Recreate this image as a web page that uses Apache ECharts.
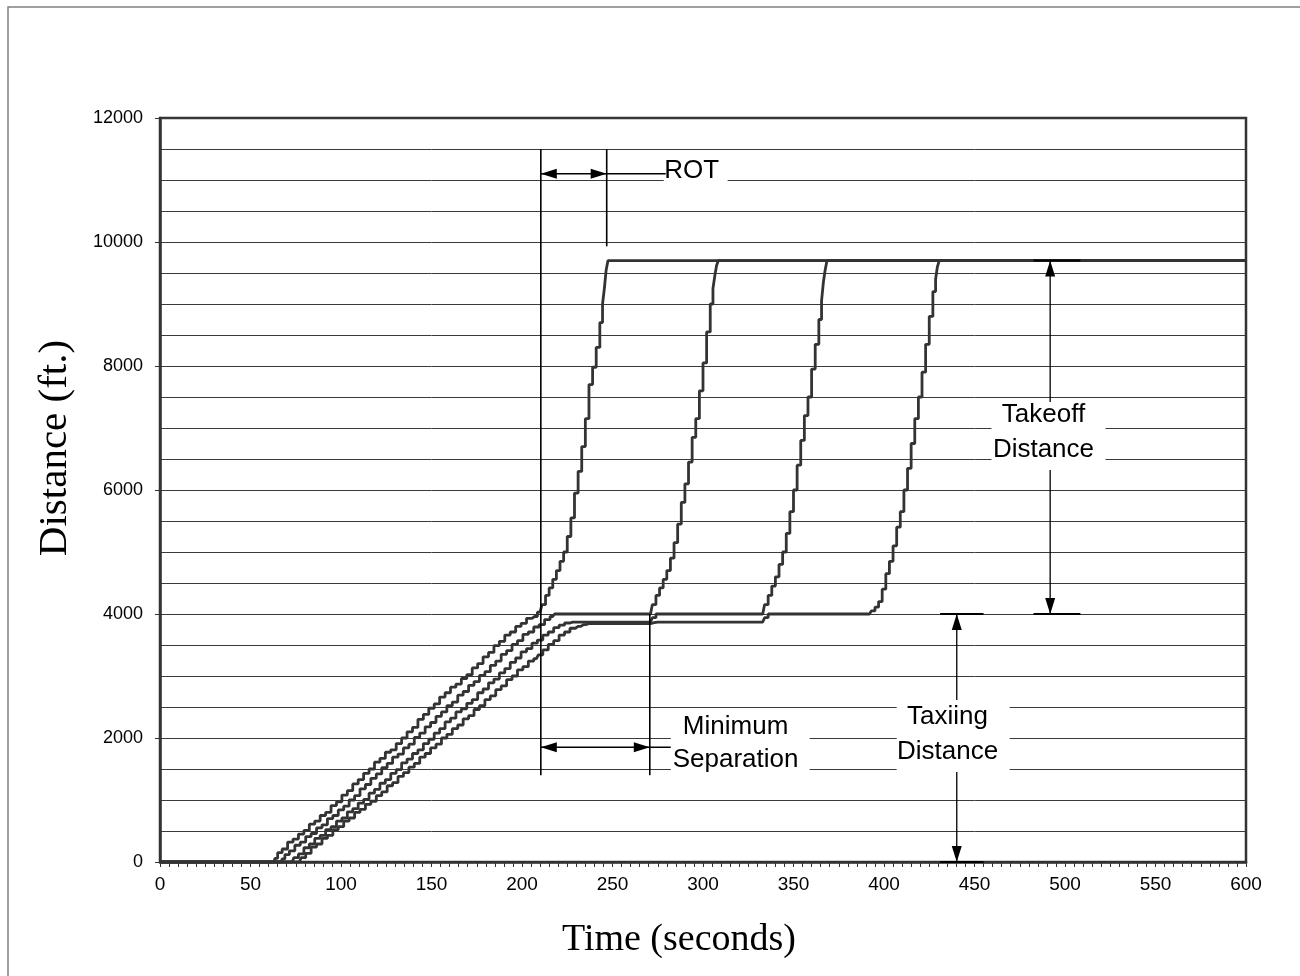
<!DOCTYPE html>
<html>
<head>
<meta charset="utf-8">
<script src="https://cdn.jsdelivr.net/npm/echarts@6/dist/echarts.min.js"></script>
<style>
html,body{margin:0;padding:0;background:#fff;}
#chart{width:1300px;height:976px;}
</style>
</head>
<body>
<div id="chart"></div>
<script>
// ---- Data: [time (s), distance (ft)] per aircraft ----
const aircraft1 = [[0,0],[63,0],[64,60],[66,150],[69,210],[72,320],[75,370],[78,450],[81,510],[84,610],[87,660],[90,750],[93,800],[96,910],[99,970],[102,1080],[105,1150],[108,1260],[111,1330],[114,1430],[117,1500],[120,1610],[123,1670],[126,1770],[129,1810],[132,1910],[135,2000],[138,2100],[141,2170],[144,2300],[147,2380],[150,2480],[153,2550],[156,2660],[159,2730],[162,2820],[165,2870],[168,2960],[171,3020],[174,3130],[177,3200],[180,3310],[183,3380],[186,3490],[189,3560],[192,3660],[195,3710],[198,3800],[201,3850],[204,3930],[207,3960],[210,4030],[212,4150],[214,4300],[216,4420],[218,4560],[220,4700],[222,4850],[224,5000],[226,5250],[228,5550],[230,5950],[232,6300],[234,6700],[236,7150],[238,7700],[240,7980],[242,8300],[244,8700],[245,9000],[246,9250],[247,9550],[248,9700],[600,9700]];

const aircraft2 = [[0,0],[67,0],[68,50],[70,120],[73,180],[76,270],[79,320],[82,410],[85,460],[88,550],[91,600],[94,700],[97,750],[100,840],[103,900],[106,1000],[109,1070],[112,1180],[115,1250],[118,1350],[121,1420],[124,1520],[127,1590],[130,1690],[133,1740],[136,1840],[139,1900],[142,2010],[145,2080],[148,2180],[151,2250],[154,2350],[157,2420],[160,2520],[163,2580],[166,2690],[169,2750],[172,2850],[175,2910],[178,3010],[181,3070],[184,3170],[187,3240],[190,3350],[193,3410],[196,3510],[199,3570],[202,3670],[205,3710],[208,3790],[211,3830],[214,3910],[217,3960],[219,4000],[271,4000],[273,4150],[275,4300],[277,4420],[279,4560],[281,4700],[283,4900],[285,5150],[287,5450],[289,5800],[291,6100],[293,6450],[295,6850],[297,7150],[299,7600],[301,8050],[303,8550],[305,9000],[306,9250],[307,9450],[308,9620],[309,9700],[600,9700]];

const aircraft3 = [[0,0],[73,0],[75,70],[78,130],[81,230],[84,290],[87,380],[90,430],[93,520],[96,570],[99,660],[102,710],[105,810],[108,860],[111,950],[114,1010],[117,1110],[120,1170],[123,1270],[126,1330],[129,1430],[132,1490],[135,1600],[138,1660],[141,1750],[144,1810],[147,1910],[150,1980],[153,2080],[156,2150],[159,2260],[162,2320],[165,2420],[168,2470],[171,2560],[174,2620],[177,2730],[180,2790],[183,2890],[186,2950],[189,3050],[192,3120],[195,3220],[198,3290],[201,3390],[204,3440],[207,3530],[210,3580],[213,3660],[216,3710],[219,3780],[222,3820],[225,3855],[228,3870],[271,3870],[273,3940],[275,4000],[333,4000],[335,4150],[337,4300],[339,4450],[341,4600],[343,4800],[345,5000],[347,5300],[349,5650],[351,6000],[353,6400],[355,6800],[357,7200],[359,7500],[361,7950],[363,8350],[365,8750],[366,9050],[367,9350],[368,9550],[369,9700],[600,9700]];

const aircraft4 = [[0,0],[77,0],[79,70],[82,140],[85,240],[88,290],[91,380],[94,430],[97,520],[100,570],[103,660],[106,710],[109,800],[112,850],[115,930],[118,980],[121,1070],[124,1130],[127,1230],[130,1280],[133,1380],[136,1440],[139,1530],[142,1590],[145,1690],[148,1750],[151,1840],[154,1900],[157,2000],[160,2060],[163,2150],[166,2210],[169,2310],[172,2360],[175,2460],[178,2520],[181,2620],[184,2680],[187,2780],[190,2840],[193,2940],[196,3000],[199,3100],[202,3150],[205,3240],[208,3280],[210,3340],[213,3420],[216,3510],[219,3570],[222,3660],[225,3710],[228,3770],[231,3800],[234,3830],[237,3845],[271,3845],[273,3860],[275,3870],[333,3870],[335,3940],[337,4000],[392,4000],[394,4050],[396,4110],[398,4200],[400,4400],[402,4650],[404,4850],[406,5100],[408,5400],[410,5650],[412,6000],[414,6350],[416,6750],[418,7150],[420,7500],[422,7900],[424,8350],[426,8800],[428,9200],[429,9400],[430,9600],[431,9700],[600,9700]];

const xAxisTitle = 'Time (seconds)';
const yAxisTitle = 'Distance (ft.)';

// ---- Annotation geometry in data coordinates (time, distance) ----
const vLines = [
  {t: 210.4, d1: 11500, d2: 1400},
  {t: 246.8, d1: 11500, d2: 9930},
  {t: 270.6, d1: 4000,  d2: 1400}
];
const hArrows = [ // double-headed horizontal arrows + extension to text box
  {d: 11100, t1: 210.4, t2: 246.8, ext: 279.4},
  {d: 1850,  t1: 210.4, t2: 270.6, ext: 282.2}
];
const vArrows = [ // vertical arrows, split by text boxes
  {t: 491.8, top: 9700, bottom: 4000, gapTop: 7419, gapBottom: 6323, bar1: 482.6, bar2: 508.5},
  {t: 440.2, top: 4000, bottom: 0,    gapTop: 2613, gapBottom: 1452, bar1: 431,   bar2: 455}
];
const textBoxes = [
  {t1: 278.3, t2: 313.6, d1: 10900, d2: 11350, tc: 293.8, lines: [['ROT', 11142]]},
  {t1: 282.2, t2: 358.9, d1: 1452,  d2: 2419,  tc: 318.0, lines: [['Minimum', 2177], ['Separation', 1645]]},
  {t1: 459.4, t2: 522.4, d1: 6323,  d2: 7419,  tc: 488.1, lines: [['Takeoff', 7210], ['Distance', 6645]]},
  {t1: 407.0, t2: 469.4, d1: 1452,  d2: 2613,  tc: 435.1, lines: [['Taxiing', 2339], ['Distance', 1774]]}
];

const chart = echarts.init(document.getElementById('chart'), null, {renderer: 'canvas'});

const lineColor = '#333333';
function mkSeries(name, data) {
  return {
    name: name, type: 'line', data: data, step: 'middle',
    symbol: 'none', silent: true, animation: false,
    lineStyle: {color: lineColor, width: 2.8},
    z: 3
  };
}

const option = {
  animation: false,
  backgroundColor: '#ffffff',
  grid: {left: 160, right: 54, top: 118, bottom: 114, show: true, borderColor: '#333', borderWidth: 2.5, backgroundColor: 'transparent'},
  xAxis: {
    type: 'value', min: 0, max: 600, interval: 50,
    axisLine: {show: true, onZero: false, lineStyle: {color: '#333', width: 2.5}},
    axisTick: {show: true, length: 5, lineStyle: {color: '#333', width: 1}},
    minorTick: {show: true, splitNumber: 10, length: 5, lineStyle: {color: '#333', width: 1}},
    axisLabel: {fontFamily: 'Liberation Sans', fontSize: 19, color: '#000', margin: 13,
      formatter: v => String(v)},
    splitLine: {show: false}
  },
  yAxis: {
    type: 'value', min: 0, max: 12000, interval: 2000,
    axisLine: {show: true, lineStyle: {color: '#333', width: 2.5}},
    axisTick: {show: true, length: 5, lineStyle: {color: '#333', width: 1}},
    minorTick: {show: false, splitNumber: 4},
    axisLabel: {fontFamily: 'Liberation Sans', fontSize: 18, color: '#000', margin: 17,
      formatter: v => String(v)},
    splitLine: {show: true, lineStyle: {color: '#3a3a3a', width: 1}},
    minorSplitLine: {show: true, lineStyle: {color: '#3a3a3a', width: 1}}
  },
  series: [
    mkSeries('Aircraft 1', aircraft1),
    mkSeries('Aircraft 2', aircraft2),
    mkSeries('Aircraft 3', aircraft3),
    mkSeries('Aircraft 4', aircraft4)
  ]
};
chart.setOption(option);

function px(t, d) { return chart.convertToPixel({gridIndex: 0}, [t, d]); }
const els = [];
const Z = 20;
const annoColor = '#000';
function line(p1, p2, w) {
  els.push({type: 'line', z: Z + 1, silent: true,
    shape: {x1: p1[0], y1: p1[1], x2: p2[0], y2: p2[1]},
    style: {stroke: annoColor, lineWidth: w || 1.5}});
}
function head(tip, dir) { // dir: 'left','right','up','down'
  const L = 16, W = 5;
  const [x, y] = tip;
  let pts;
  if (dir === 'left') pts = [[x, y], [x + L, y - W], [x + L, y + W]];
  else if (dir === 'right') pts = [[x, y], [x - L, y - W], [x - L, y + W]];
  else if (dir === 'up') pts = [[x, y], [x - W, y + L], [x + W, y + L]];
  else pts = [[x, y], [x - W, y - L], [x + W, y - L]];
  els.push({type: 'polygon', z: Z + 2, silent: true, shape: {points: pts}, style: {fill: annoColor}});
}

// outer frame
els.push({type: 'rect', z: Z, silent: true, shape: {x: 8, y: 7, width: 1300, height: 980},
  style: {fill: 'none', stroke: '#808080', lineWidth: 1.5}});

// text boxes (white, hiding grid lines) + text
textBoxes.forEach(b => {
  const p1 = px(b.t1, b.d2), p2 = px(b.t2, b.d1);
  els.push({type: 'rect', z: Z, silent: true,
    shape: {x: p1[0], y: p1[1], width: p2[0] - p1[0], height: p2[1] - p1[1]},
    style: {fill: '#ffffff', stroke: 'none'}});
  b.lines.forEach(([txt, d]) => {
    const p = px(b.tc, d);
    els.push({type: 'text', z: Z + 3, silent: true, x: p[0], y: p[1],
      style: {text: txt, x: 0, y: 0, fill: '#000', font: '26px "Liberation Sans", Arial, sans-serif',
        align: 'center', verticalAlign: 'middle', textAlign: 'center', textVerticalAlign: 'middle'}});
  });
});

vLines.forEach(v => line(px(v.t, v.d1), px(v.t, v.d2), 1.6));

hArrows.forEach(a => {
  const p1 = px(a.t1, a.d), p2 = px(a.t2, a.d), p3 = px(a.ext, a.d);
  line(p1, p3, 1.5);
  head(p1, 'left');
  head(p2, 'right');
});

vArrows.forEach(a => {
  const top = px(a.t, a.top), bot = px(a.t, a.bottom);
  line(top, px(a.t, a.gapTop), 1.3);
  line(px(a.t, a.gapBottom), bot, 1.3);
  head(top, 'up');
  head(bot, 'down');
  line(px(a.bar1, a.top), px(a.bar2, a.top), 2);
  line(px(a.bar1, a.bottom), px(a.bar2, a.bottom), 2);
});

// axis titles
els.push({type: 'text', z: Z + 3, silent: true, x: 55, y: 448, rotation: Math.PI / 2,
  style: {text: yAxisTitle, x: 0, y: 0, fill: '#000', font: '41px "Liberation Serif", "Times New Roman", serif',
    align: 'center', verticalAlign: 'middle', textAlign: 'center', textVerticalAlign: 'middle'}});
els.push({type: 'text', z: Z + 3, silent: true, x: 679, y: 940,
  style: {text: xAxisTitle, x: 0, y: 0, fill: '#000', font: '38px "Liberation Serif", "Times New Roman", serif',
    align: 'center', verticalAlign: 'middle', textAlign: 'center', textVerticalAlign: 'middle'}});

chart.setOption({graphic: {elements: els}});
</script>
</body>
</html>
